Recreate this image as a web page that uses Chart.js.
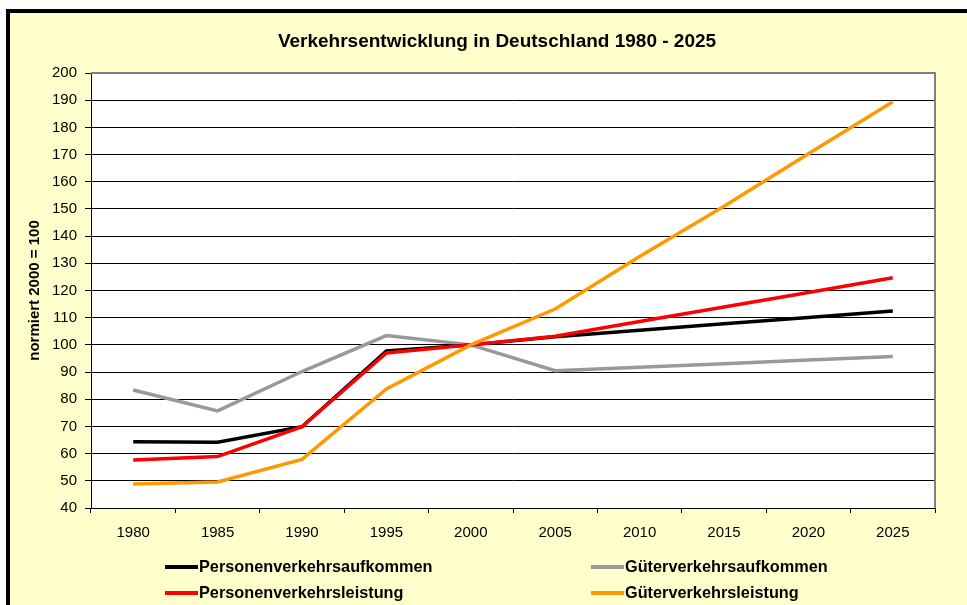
<!DOCTYPE html>
<html>
<head>
<meta charset="utf-8">
<script src="https://cdn.jsdelivr.net/npm/chart.js@4"></script>
<style>
  html, body { margin: 0; padding: 0; background: #fff; }
  #wrap { width: 967px; height: 605px; }
</style>
</head>
<body>
<div id="wrap"><canvas id="myChart" width="967" height="605"></canvas></div>
<script>
// Jahre und Werte (normiert 2000 = 100)
const jahre = ['1980', '1985', '1990', '1995', '2000', '2005', '2010', '2015', '2020', '2025'];
const personenAufkommen = [64.4, 64.2, 69.9, 97.8, 100, 103, 105.4, 107.8, 110.1, 112.5];
const gueterAufkommen = [83.4, 75.7, 90.2, 103.4, 100, 90.5, 91.8, 93.1, 94.4, 95.7];
const personenLeistung = [57.7, 58.9, 69.9, 97, 100, 103.2, 108.6, 113.9, 119.3, 124.7];
const gueterLeistung = [48.8, 49.6, 57.9, 83.8, 100, 113.2, 132.5, 151, 170.3, 189.4];
const labels = ['Personenverkehrsaufkommen', 'Güterverkehrsaufkommen', 'Personenverkehrsleistung', 'Güterverkehrsleistung'];
const farben = ['#000000', '#999999', '#ff0000', '#ff9900'];
const titel = 'Verkehrsentwicklung in Deutschland 1980 - 2025';

const schrift = "'Liberation Sans', Arial, sans-serif";

// hintergrund, rahmen, titel und plotfläche
const hintergrund = {
    id: 'hintergrund',
    beforeDraw(chart) {
        const c = chart.ctx;
        const a = chart.chartArea;
        c.save();
        c.fillStyle = '#ffffff';
        c.fillRect(0, 0, chart.width, chart.height);
        c.fillStyle = '#ffffcc';
        c.fillRect(8, 11, chart.width, chart.height);
        c.strokeStyle = '#000000';
        c.lineWidth = 4;
        c.strokeRect(8, 11, chart.width + 20, chart.height + 20);
        c.fillStyle = '#ffffff';
        c.fillRect(a.left, a.top, a.right - a.left, a.bottom - a.top);
        // titel (sitzt nicht ganz mittig, wie im original)
        c.fillStyle = '#000';
        c.font = 'bold 19px ' + schrift;
        c.textAlign = 'center';
        c.textBaseline = 'middle';
        c.fillText(titel, 497, 42);
        c.restore();
    },
    afterDatasetsDraw(chart) {
        const c = chart.ctx;
        const a = chart.chartArea;
        c.save();
        c.strokeStyle = '#808080';
        c.lineWidth = 2;
        c.beginPath();
        c.moveTo(a.left, a.top);
        c.lineTo(a.right, a.top);
        c.lineTo(a.right, a.bottom);
        c.stroke();
        c.restore();
    }
};

// legende in zwei spalten unten
const legende = {
    id: 'legende',
    afterDraw(chart) {
        const c = chart.ctx;
        const spalten = [165, 591];
        const zeilen = [567, 593];
        c.save();
        c.font = 'bold 16.3px ' + schrift;
        c.textBaseline = 'middle';
        c.fillStyle = '#000';
        chart.data.datasets.forEach((ds, i) => {
            const x = spalten[i % 2];
            const y = zeilen[Math.floor(i / 2)];
            c.strokeStyle = ds.borderColor;
            c.lineWidth = 4;
            c.beginPath();
            c.moveTo(x, y);
            c.lineTo(x + 33, y);
            c.stroke();
            c.fillText(ds.label, x + 34, y + 1);
        });
        c.restore();
    }
};

const ctx = document.getElementById('myChart');
const daten = [personenAufkommen, gueterAufkommen, personenLeistung, gueterLeistung];
const reihenfolge = [2, 3, 1, 0];

let chart1 = new Chart(ctx, {
    type: 'line',
    data: {
        labels: jahre,
        datasets: daten.map((d, i) => ({
            label: labels[i],
            data: d,
            borderColor: farben[i],
            backgroundColor: farben[i],
            borderWidth: 3.5,
            pointRadius: 0,
            tension: 0,
            order: reihenfolge[i]
        }))
    },
    options: {
        responsive: false,
        animation: false,
        layout: { padding: { left: 0, right: 32, top: 73, bottom: 0 } },
        plugins: {
            legend: { display: false },
            tooltip: { enabled: false },
            title: { display: false }
        },
        scales: {
            x: {
                offset: true,
                grid: { offset: true, drawOnChartArea: false, color: '#000', tickLength: 5 },
                border: { color: '#000', width: 1 },
                ticks: { color: '#000', font: { family: schrift, size: 15 }, padding: 11, maxRotation: 0 },
                afterFit(scale) { scale.height = 97; }
            },
            y: {
                min: 40,
                max: 200,
                ticks: { stepSize: 10, color: '#000', font: { family: schrift, size: 15 }, padding: 8 },
                grid: { color: '#000', tickLength: 6 },
                border: { color: '#000', width: 1 },
                title: {
                    display: true,
                    text: 'normiert 2000 = 100',
                    color: '#000',
                    font: { family: schrift, size: 15, weight: 'bold', lineHeight: 1.2 },
                    padding: { top: 26, bottom: 0 }
                },
                afterFit(scale) { scale.width = 91; }
            }
        }
    },
    plugins: [hintergrund, legende]
});
</script>
</body>
</html>
